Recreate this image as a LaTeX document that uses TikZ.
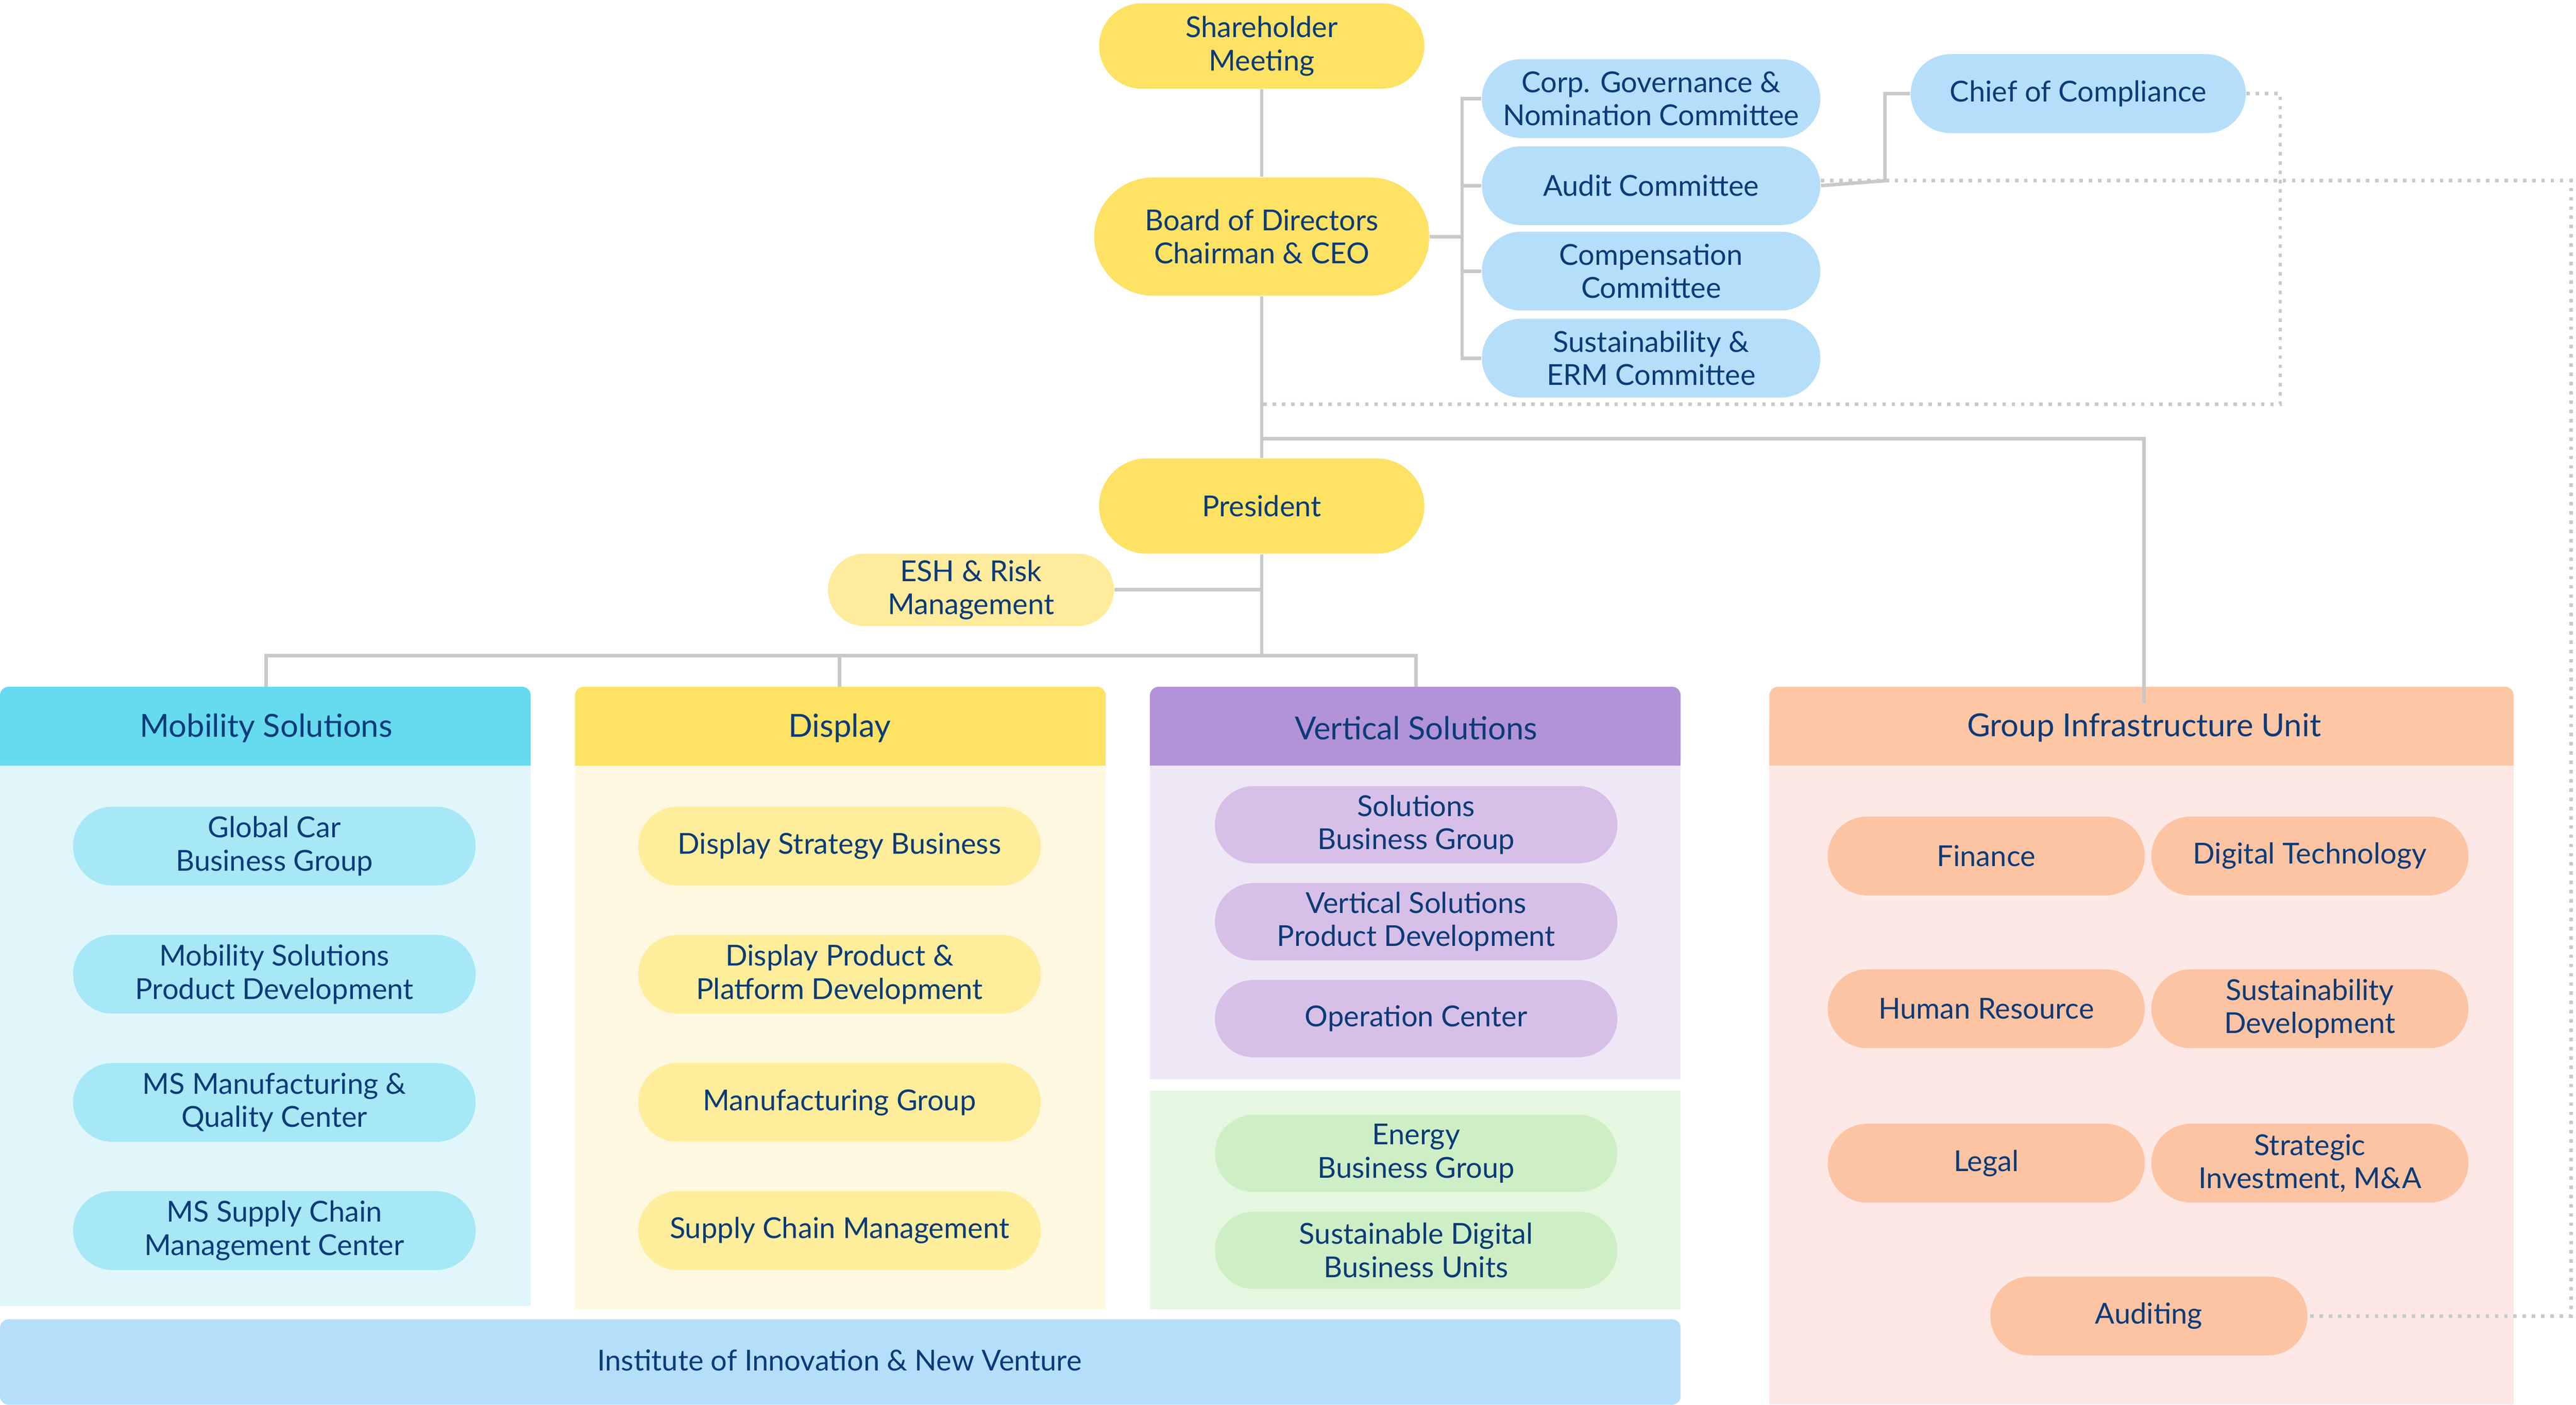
\documentclass[tikz,border=0pt]{standalone}
\usepackage{fontspec}
\setmainfont{Lato}
\definecolor{txt}{HTML}{0B3A78}
\definecolor{ylw}{HTML}{FDE264}
\definecolor{lblue}{HTML}{B5DEFA}
\definecolor{cyanH}{HTML}{66DAEE}
\definecolor{cyanP}{HTML}{E0F6FB}
\definecolor{cyanN}{HTML}{A6E8F6}
\definecolor{dispP}{HTML}{FEF8E0}
\definecolor{dispN}{HTML}{FEEE9C}
\definecolor{purH}{HTML}{B393D7}
\definecolor{purP}{HTML}{EEE8F6}
\definecolor{purN}{HTML}{D6C0E7}
\definecolor{grnP}{HTML}{E5F7E0}
\definecolor{grnN}{HTML}{CEEFC6}
\definecolor{orH}{HTML}{FDC7A6}
\definecolor{orP}{HTML}{FEE8E6}
\definecolor{orN}{HTML}{FDC4A3}
\definecolor{esh}{HTML}{FEEB9C}
\definecolor{lin}{HTML}{C9C9C9}
\tikzset{
  pill/.style n args={3}{fill=#1, draw=none, rounded corners=#3*0.01cm, minimum width=#2*0.02cm, minimum height=#3*0.02cm, inner sep=0pt, align=center, text=txt, font=\fontsize{10}{11.5}\selectfont},
  hdr/.style={text=txt, font=\fontsize{11}{13}\selectfont},
  ln/.style={draw=lin, line width=1.2pt},
  dot/.style={draw=lin, line width=1.2pt, dotted},
}
\begin{document}
\begin{tikzpicture}[x=0.02cm,y=-0.02cm]
\useasboundingbox (0,0) rectangle (1568,855);
% panels
\fill[cyanP] (0,466) rectangle (323,795);
\fill[cyanH,rounded corners=3] (0,418) rectangle (323,466);
\fill[cyanH] (0,440) rectangle (323,466);
\node[hdr] (hm) at (162,443) {Mobility Solutions};
\fill[dispP] (350,466) rectangle (673,797);
\fill[ylw,rounded corners=3] (350,418) rectangle (673,466);
\fill[ylw] (350,440) rectangle (673,466);
\node[hdr] (hd) at (511,443) {Display};
\fill[purP] (700,466) rectangle (1023,657);
\fill[purH,rounded corners=3] (700,418) rectangle (1023,466);
\fill[purH] (700,440) rectangle (1023,466);
\node[hdr] (hv) at (862,443) {Vertical Solutions};
\fill[grnP] (700,664) rectangle (1023,797);
\fill[orP] (1077,466) rectangle (1530,855);
\fill[orH,rounded corners=3] (1077,418) rectangle (1530,466);
\fill[orH] (1077,440) rectangle (1530,466);
\node[hdr] (hg) at (1305,443) {Group Infrastructure Unit};
\fill[lblue,rounded corners=3] (0,803) rectangle (1023,855);
\node[text=txt,font=\fontsize{10}{12}\selectfont] (inst) at (511,828) {Institute of Innovation \& New Venture};
% top nodes
\node[pill={ylw}{198}{52}] (sh) at (768,28) {Shareholder\\Meeting};
\node[pill={ylw}{204}{72}] (bd) at (768,144) {Board of Directors\\Chairman \& CEO};
\node[pill={lblue}{206}{48}] (c1) at (1005,60) {Corp. Governance \&\\Nomination Committee};
\node[pill={lblue}{206}{48}] (c2) at (1005,113) {Audit Committee};
\node[pill={lblue}{206}{48}] (c3) at (1005,165) {Compensation\\Committee};
\node[pill={lblue}{206}{48}] (c4) at (1005,218) {Sustainability \&\\ERM Committee};
\node[pill={lblue}{204}{48}] (cc) at (1265,57) {Chief of Compliance};
\node[pill={ylw}{198}{58}] (pr) at (768,308) {President};
\node[pill={esh}{174}{44}] (es) at (591,359) {ESH \& Risk\\Management};
% mobility
\node[pill={cyanN}{245}{48}] (m1) at (167,515) {Global Car\\Business Group};
\node[pill={cyanN}{245}{48}] (m2) at (167,593) {Mobility Solutions\\Product Development};
\node[pill={cyanN}{245}{48}] (m3) at (167,671) {MS Manufacturing \&\\Quality Center};
\node[pill={cyanN}{245}{48}] (m4) at (167,749) {MS Supply Chain\\Management Center};
% display
\node[pill={dispN}{245}{48}] (d1) at (511,515) {Display Strategy Business};
\node[pill={dispN}{245}{48}] (d2) at (511,593) {Display Product \&\\Platform Development};
\node[pill={dispN}{245}{48}] (d3) at (511,671) {Manufacturing Group};
\node[pill={dispN}{245}{48}] (d4) at (511,749) {Supply Chain Management};
% vertical
\node[pill={purN}{245}{47}] (v1) at (862,502) {Solutions\\Business Group};
\node[pill={purN}{245}{47}] (v2) at (862,561) {Vertical Solutions\\Product Development};
\node[pill={purN}{245}{47}] (v3) at (862,620) {Operation Center};
\node[pill={grnN}{245}{47}] (g1) at (862,702) {Energy\\Business Group};
\node[pill={grnN}{245}{47}] (g2) at (862,761) {Sustainable Digital\\Business Units};
% GIU
\node[pill={orN}{193}{48}] (o1) at (1209,521) {Finance};
\node[pill={orN}{193}{48}] (o2) at (1406,521) {Digital Technology};
\node[pill={orN}{193}{48}] (o3) at (1209,614) {Human Resource};
\node[pill={orN}{193}{48}] (o4) at (1406,614) {Sustainability\\Development};
\node[pill={orN}{193}{48}] (o5) at (1209,708) {Legal};
\node[pill={orN}{193}{48}] (o6) at (1406,708) {Strategic\\Investment, M\&A};
\node[pill={orN}{193}{48}] (o7) at (1308,801) {Auditing};
% connectors
\coordinate (br) at (890,144);
\draw[ln] (sh) -- (bd);
\draw[ln] (bd) -- (pr);
\draw[ln] (bd.east) -- (br);
\draw[ln] (c1.west) -| (br) |- (c4.west);
\draw[ln] (c2.west) -- (c2.west -| br);
\draw[ln] (c3.west) -- (c3.west -| br);
\draw[ln] (c2.east) -- ++(39,-3) |- (cc.west);
\draw[ln] (768,267) -| (hg.north -| 1305,418);
\draw[ln] (pr.south) -- (768,399);
\draw[ln] (es.east) -- (768,359);
\draw[ln] (162,418) |- (862,399) -- (862,418);
\draw[ln] (511,399) -- (511,418);
\draw[dot] (cc.east) -| (1388,246) -- (768,246);
\draw[dot] (c2.east) ++(0,-3) -- (1565,110) |- (o7.east);
\end{tikzpicture}
\end{document}
